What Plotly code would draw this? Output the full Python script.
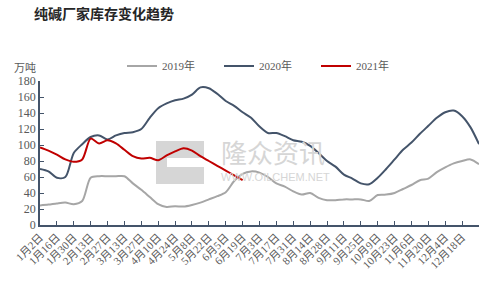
import plotly.graph_objects as go

title = "纯碱厂家库存变化趋势"
unit = "万吨"
series_names = ["2019年", "2020年", "2021年"]

tick_labels = ["1月2日", "1月16日", "1月30日", "2月13日", "2月27日", "3月13日", "3月27日",
               "4月10日", "4月24日", "5月8日", "5月22日", "6月5日", "6月19日", "7月3日",
               "7月17日", "7月31日", "8月14日", "8月28日", "9月11日", "9月25日", "10月9日",
               "10月23日", "11月6日", "11月20日", "12月4日", "12月18日"]

v2019 = [24.5, 25.5, 27, 28, 26, 30, 59, 61, 61, 61, 61, 52, 44, 35, 26, 22.5, 23.5, 23,
         25, 28, 32, 36, 41, 55, 64, 67, 65.5, 60, 52, 48, 42, 38, 40, 34, 31, 31, 32, 32,
         32, 30, 37.5, 38, 40, 45, 50, 56, 58, 66, 72, 77, 80, 82, 76]
v2020 = [70, 67, 59, 60, 90, 101, 110, 112, 107, 112, 115, 116, 120, 134, 146, 152, 156, 158,
         163, 172, 171, 164, 155, 149, 141, 134, 123, 115, 115, 111, 106, 104, 99, 90, 80,
         73, 63, 58, 52, 51, 59, 70, 82, 94, 103, 114, 124, 134, 141, 143, 136, 122, 101]
v2021 = [97, 93, 88, 82, 79, 82, 108, 102, 106, 102, 94, 86, 83, 84, 81, 87, 92, 96, 93,
         86, 80, 74, 68, 62, 56]

colors = ["#a6a6a6", "#44546a", "#c00000"]

# plot area in pixels
L, R, T, B = 40, 479, 81, 225
W, H = R - L, B - T


def px(x):
    return (x - L) / W


def py(y):
    return (B - y) / H


fig = go.Figure()
for name, vals, col in zip(series_names, [v2019, v2020, v2021], colors):
    fig.add_trace(go.Scatter(x=list(range(len(vals))), y=vals, name=name, mode="lines",
                             line=dict(color=col, width=2, shape="spline", smoothing=0.8)))

# watermark (logo + text), drawn beneath the lines
wm = "#d6d6d6"
fig.add_shape(type="rect", xref="paper", yref="paper", x0=px(156), x1=px(204),
              y0=py(184), y1=py(141), fillcolor=wm, line_width=0, layer="below")
fig.add_shape(type="rect", xref="paper", yref="paper", x0=px(167), x1=px(204),
              y0=py(167), y1=py(158), fillcolor="white", line_width=0, layer="below")
fig.add_annotation(text="隆众资讯", xref="paper", yref="paper", x=px(273), y=py(151),
                   showarrow=False, font=dict(size=26, color=wm, family="Noto Sans CJK SC"))
fig.add_annotation(text="WWW.OILCHEM.NET", xref="paper", yref="paper", x=px(275),
                   y=py(185), showarrow=False,
                   font=dict(size=11, color=wm, family="Liberation Sans"))

fig.add_annotation(text=title, xref="paper", yref="paper", x=px(32), y=py(13),
                   xanchor="left", yanchor="middle", showarrow=False,
                   font=dict(size=14, color="#262626", family="Noto Sans CJK SC", weight="bold"))
fig.add_annotation(text=unit, xref="paper", yref="paper", x=px(12), y=py(67),
                   xanchor="left", yanchor="middle", showarrow=False,
                   font=dict(size=11, color="#595959", family="Noto Sans CJK SC"))

axis_color = "#44546a"
fig.update_layout(
    width=504, height=284,
    margin=dict(l=L, r=504 - R, t=T, b=284 - B, autoexpand=False),
    paper_bgcolor="white", plot_bgcolor="white",
    font=dict(family="Liberation Serif, Noto Sans CJK SC", color="#595959", size=11),
    showlegend=True,
    legend=dict(orientation="h", x=px(122), y=py(66), xanchor="left", yanchor="middle",
                entrywidth=52, entrywidthmode="pixels", font=dict(size=11, color="#595959"),
                bgcolor="rgba(0,0,0,0)", tracegroupgap=0),
    xaxis=dict(range=[0, 52], tickvals=list(range(0, 53, 2)), ticktext=tick_labels + [""],
               tickangle=-45, ticks="inside", ticklen=4, tickcolor=axis_color, showline=True,
               linecolor=axis_color, linewidth=1.5, showgrid=False, zeroline=False,
               automargin=False, tickfont=dict(size=11, color="#595959")),
    yaxis=dict(range=[0, 180], dtick=20, ticks="inside", ticklen=4, tickcolor=axis_color,
               showline=True, linecolor=axis_color, linewidth=1.5, showgrid=False,
               zeroline=False, automargin=False, tickfont=dict(size=12, color="#595959")),
)

fig.write_html("out.html")
